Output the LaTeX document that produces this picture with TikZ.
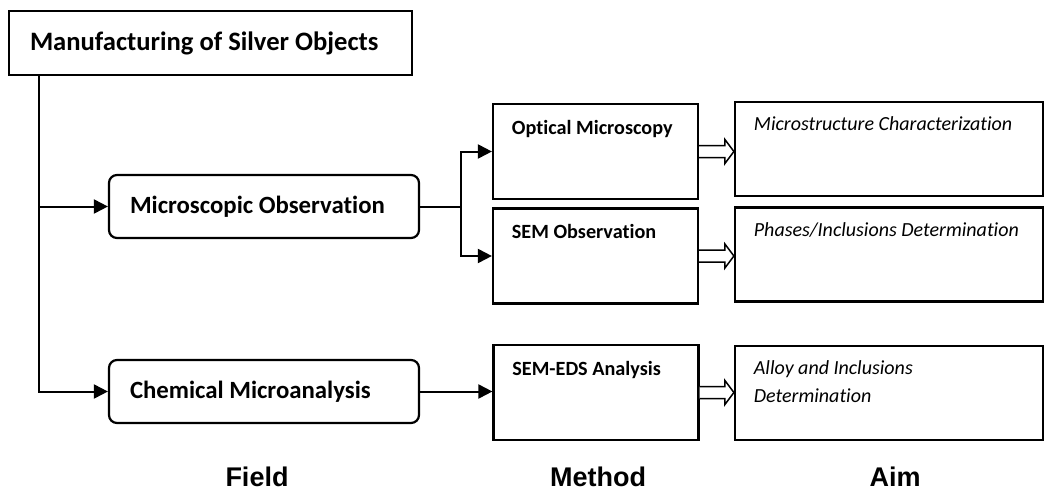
\documentclass[tikz,border=0pt]{standalone}
\usepackage{fontspec}
\setmainfont{Carlito}[Ligatures=NoCommon]
\newfontfamily\headfont{Liberation Sans}
\usepackage{tikz}
\usetikzlibrary{calc,arrows.meta}

\newcommand{\hollowarrow}[2]{%
  \draw[line width=1.5pt, fill=white, line join=miter]
    ($(#1.east)+(0,-6)$) -- ($(#1.east -| #2.west)+(-9,-6)$) -- ++(0,-6)
    -- (#1.east -| #2.west) -- ++(-9,12) -- ++(0,-6)
    -- ($(#1.east)+(0,6)$);}

\begin{document}
\begin{tikzpicture}[
    x=1pt, y=-1pt,
    >={Triangle[length=14pt,width=14pt]},
    line width=2pt,
    every node/.style={font=\fontsize{20}{24}\selectfont},
    fieldbox/.style={draw, line width=2.2pt, rounded corners=8pt, minimum width=310pt,
      minimum height=63pt, inner xsep=21pt, text width=268pt, align=flush left,
      font=\bfseries\fontsize{24.8}{28}\selectfont},
    methodbox/.style={draw, line width=2.2pt, minimum width=205pt, minimum height=95pt},
    aimbox/.style={draw, line width=2.2pt, minimum width=308pt, minimum height=94pt},
    methodtext/.style={anchor=north west, inner sep=0pt, font=\bfseries\fontsize{20.2}{24}\selectfont},
    aimtext/.style={anchor=north west, inner sep=0pt, align=flush left, font=\itshape\fontsize{20}{28}\selectfont},
    heading/.style={anchor=base, font=\headfont\bfseries\fontsize{27}{32}\selectfont}
  ]
    \useasboundingbox (0,0) rectangle (1044,490);

    % field column
    \node[fieldbox, rounded corners=0pt, minimum width=403pt, minimum height=64pt, text width=361pt,
      font=\bfseries\fontsize{26.6}{30}\selectfont] (title) at (210.5,43) {Manufacturing of Silver Objects};
    \node[fieldbox] (micro) at (264,206.5) {Microscopic Observation};
    \node[fieldbox] (chem) at (264,391.5) {Chemical Microanalysis};

    % method column
    \node[methodbox] (optic) at (595.5,151.5) {};
    \node[methodbox] (sem) at (595.5,256) {};
    \node[methodbox] (eds) at (596,392.5) {};
    \node[methodtext] (optict) at ($(optic.north west)+(19,16)$) {Optical Microscopy};
    \node[methodtext] (semt) at ($(sem.north west)+(19,16)$) {SEM Observation};
    \node[methodtext] (edst) at ($(eds.north west)+(19,16)$) {SEM-EDS Analysis};

    % aim column
    \node[aimbox] (aimA) at (889,149) {};
    \node[aimbox] (aimB) at (889,254.5) {};
    \node[aimbox] (aimC) at (889,393) {};
    \node[aimtext] (aimAt) at ($(aimA.north west)+(19,15)$) {Microstructure Characterization};
    \node[aimtext] (aimBt) at ($(aimB.north west)+(19,15)$) {Phases/Inclusions Determination};
    \node[aimtext] (aimCt) at ($(aimC.north west)+(19,15)$) {Alloy and Inclusions\\Determination};

    % connectors
    \coordinate (trunk) at ($(title.south west)+(31,0)$);
    \draw[->] (trunk) |- (micro.west);
    \draw[->] (trunk) |- (chem.west);
    \draw (micro.east) -- ++(41,0) coordinate (split);
    \draw[->] (split) |- (optic.west);
    \draw[->] (split) |- (sem.west);
    \draw[->] (chem.east) -- (chem.east -| eds.west);
    \hollowarrow{optic}{aimA}
    \hollowarrow{sem}{aimB}
    \hollowarrow{eds}{aimC}

    % headings
    \node[heading] (field) at (257,486) {Field};
    \node[heading] (method) at (598,486) {Method};
    \node[heading] (aim) at (895,486) {Aim};
  \end{tikzpicture}
\end{document}
